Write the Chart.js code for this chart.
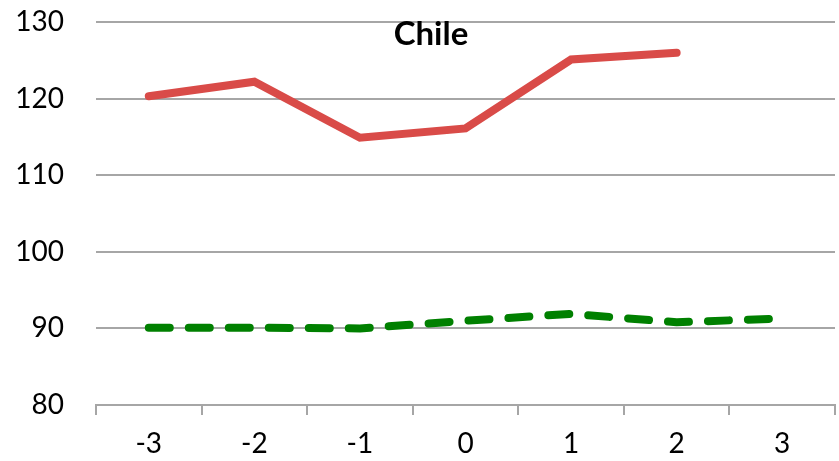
<!DOCTYPE html>
<html>
<head>
<meta charset="utf-8">
<script src="https://cdn.jsdelivr.net/npm/chart.js@4/dist/chart.umd.min.js"></script>
<style>
  html, body { margin: 0; padding: 0; background: #ffffff; }
  #wrap { width: 839px; height: 461px; }
</style>
</head>
<body>
<div id="wrap"><canvas id="chart" width="839" height="461"></canvas></div>
<script>
// Categories along the horizontal axis
const categories = ['-3', '-2', '-1', '0', '1', '2', '3'];
// Solid red series (no value for the last category)
const redSeries = [120.3, 122.2, 114.9, 116.1, 125.1, 126.0, null];
// Dashed green series
const greenSeries = [90.1, 90.1, 90.0, 91.0, 91.9, 90.8, 91.3];
// Vertical axis range and step
const yMin = 80, yMax = 130, yStep = 10;
const titleText = 'Chile';

const FONT = 'Lato, "Open Sans", sans-serif';

// Title drawn over the plot area, near its top
const overlayTitle = {
  id: 'overlayTitle',
  afterDraw(chart) {
    const ctx = chart.ctx;
    ctx.save();
    ctx.font = 'bold 33px ' + FONT;
    ctx.fillStyle = '#000000';
    ctx.textAlign = 'center';
    ctx.textBaseline = 'alphabetic';
    ctx.fillText(titleText, 431, 45);
    ctx.restore();
  }
};

new Chart(document.getElementById('chart'), {
  type: 'line',
  data: {
    labels: categories,
    datasets: [
      {
        data: redSeries,
        borderColor: '#d94b48',
        borderWidth: 8,
        borderCapStyle: 'round',
        borderJoinStyle: 'miter',
        pointRadius: 0,
        tension: 0,
        spanGaps: false
      },
      {
        data: greenSeries,
        borderColor: '#008000',
        borderWidth: 8,
        borderDash: [21, 19],
        borderCapStyle: 'round',
        borderJoinStyle: 'round',
        pointRadius: 0,
        tension: 0
      }
    ]
  },
  options: {
    responsive: false,
    animation: false,
    layout: { padding: { left: 0, right: 4, top: 22, bottom: 0 } },
    plugins: {
      legend: { display: false },
      title: { display: false },
      tooltip: { enabled: false }
    },
    scales: {
      x: {
        offset: true,
        grid: {
          offset: true,
          drawOnChartArea: false,
          drawTicks: true,
          tickLength: 10,
          color: '#a6a6a6',
          lineWidth: 2
        },
        border: { display: true, color: '#a6a6a6', width: 2 },
        ticks: {
          color: '#000000',
          font: { family: FONT, size: 28 },
          padding: 12,
          maxRotation: 0
        },
        afterFit(scale) {
          scale.height = 56;
          scale.paddingLeft = 0;
          scale.paddingRight = 0;
        }
      },
      y: {
        min: yMin,
        max: yMax,
        grid: {
          color: '#a6a6a6',
          lineWidth: 2,
          drawTicks: false
        },
        border: { display: false },
        ticks: {
          stepSize: yStep,
          color: '#000000',
          font: { family: FONT, size: 28 },
          padding: 32
        },
        afterFit(scale) {
          scale.width = 96;
          scale.paddingTop = 0;
          scale.paddingBottom = 0;
        }
      }
    }
  },
  plugins: [overlayTitle]
});
</script>
</body>
</html>
